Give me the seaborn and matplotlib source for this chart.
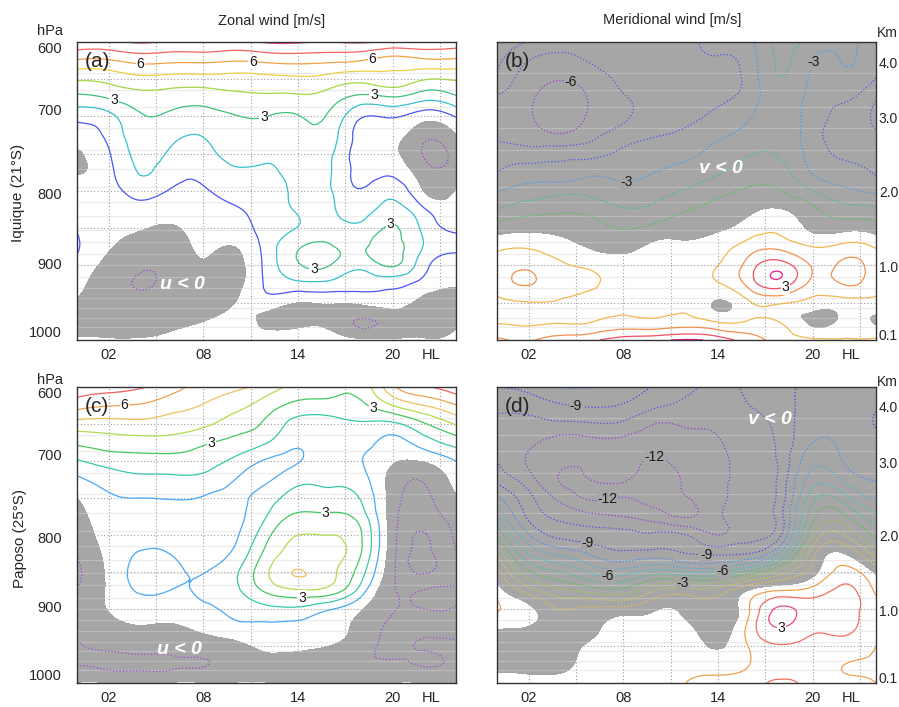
import numpy as np
import matplotlib
matplotlib.use("Agg")
import matplotlib.pyplot as plt
import seaborn as sns
from matplotlib.tri import Triangulation, UniformTriRefiner

# ---------------- data ----------------
hours = [0, 2, 4, 6, 8, 10, 12, 14, 16, 18, 20, 22, 24]
pressure = [600, 625, 650, 675, 700, 725, 750, 775, 800, 825, 850, 875, 900, 925, 950, 975, 1000]

# one list per hour (00..24 LT), values from 600 hPa down to 1000 hPa  [m/s]
u_iquique = [
    [7.8, 5.9, 4.1, 2.7, 1.3, 0.5, -0.1, -0.05, 0.4, 0.7, 0.95, 1.1, 0.7, 0.3, -0.1, -0.3, 0.1],
    [7.8, 5.9, 4.3, 3.05, 1.7, 1.25, 0.9, 0.7, 0.5, 0.4, 0.3, 0.1, -0.3, -0.6, -0.6, -0.5, 0.1],
    [8.1, 6.3, 4.7, 3.6, 2.9, 2.6, 2.3, 2.05, 1.4, 0.7, 0.1, -0.5, -0.9, -1.05, -0.8, -0.5, 0.1],
    [7.9, 6.2, 4.6, 3.5, 2.8, 2.3, 1.8, 1.4, 0.9, 0.4, -0.1, -0.5, -0.7, -0.7, -0.5, -0.2, 0.2],
    [8.0, 6.2, 4.6, 3.4, 2.6, 2.05, 1.7, 1.3, 0.9, 0.6, 0.35, 0.15, -0.1, -0.3, -0.3, 0.0, 0.3],
    [7.8, 6.05, 4.6, 3.7, 2.95, 2.6, 2.25, 1.85, 1.3, 0.9, 0.5, 0.0, -0.3, -0.3, 0.0, 0.3, 0.5],
    [8.1, 6.2, 4.7, 3.8, 3.0, 2.55, 2.15, 1.9, 1.7, 1.55, 1.45, 1.4, 1.3, 1.15, 0.5, -0.2, 0.8],
    [8.1, 6.3, 4.8, 3.8, 2.95, 2.7, 2.5, 2.35, 2.2, 2.1, 2.05, 2.9, 2.9, 1.7, 0.0, -0.3, 0.9],
    [8.0, 6.2, 4.6, 3.5, 2.85, 2.5, 2.2, 2.1, 2.1, 2.2, 2.5, 3.1, 3.0, 1.7, 0.1, -0.3, 0.6],
    [8.1, 6.0, 4.3, 2.65, 1.1, 0.6, 0.5, 0.7, 1.1, 1.6, 2.3, 2.9, 2.3, 1.3, 0.2, -1.1, 0.2],
    [7.9, 5.6, 4.6, 2.9, 1.1, 0.4, 0.2, 0.8, 1.7, 2.4, 3.1, 3.3, 3.1, 1.3, 0.4, -0.6, 0.1],
    [7.8, 5.8, 4.05, 2.3, 0.4, -0.7, -1.1, -0.6, -0.05, 1.1, 1.7, 1.9, 1.3, 0.6, -0.4, -0.5, 0.1],
    [7.6, 5.8, 4.1, 2.8, 1.05, 0.0, -0.6, -0.5, 0.1, 0.5, 0.85, 1.15, 0.6, 0.1, -0.4, -0.2, 0.2],
]
v_iquique = [
    [-3.3, -3.8, -4.3, -5.1, -5.3, -5.15, -4.6, -4.0, -3.0, -2.0, -0.5, 0.75, 1.5, 1.4, 0.8, 0.9, 2.2],
    [-4.05, -5.0, -5.5, -5.8, -5.9, -5.5, -4.6, -3.5, -2.6, -1.4, -0.25, 0.9, 1.8, 2.05, 0.95, 0.8, 1.9],
    [-4.6, -5.3, -5.95, -6.5, -6.4, -5.9, -4.4, -3.6, -2.3, -1.2, -0.3, 0.4, 1.15, 1.3, 0.9, 0.9, 2.5],
    [-4.6, -4.9, -5.5, -5.85, -5.85, -5.3, -4.3, -3.2, -2.3, -1.35, -0.6, -0.1, 0.8, 1.1, 0.7, 0.95, 2.8],
    [-4.3, -4.6, -4.8, -5.1, -5.2, -4.5, -3.8, -3.3, -2.7, -1.9, -1.05, -0.3, 0.4, 0.6, 0.8, 1.3, 3.5],
    [-4.3, -4.5, -4.6, -4.6, -4.4, -4.05, -3.5, -3.0, -2.4, -1.7, -0.7, 0.25, 0.5, 0.6, 0.8, 1.2, 3.8],
    [-4.2, -4.3, -4.4, -4.4, -4.2, -3.8, -3.25, -2.6, -1.9, -1.05, -0.4, 0.2, 0.45, 0.6, 0.85, 1.4, 4.1],
    [-3.8, -4.1, -4.3, -4.15, -3.8, -3.2, -2.6, -2.1, -1.3, -0.7, -0.15, 0.6, 1.0, 0.9, -0.1, 0.9, 3.6],
    [-3.3, -3.5, -3.6, -3.5, -3.1, -2.6, -2.05, -1.5, -0.85, -0.2, 0.5, 1.5, 2.5, 2.4, 0.9, 1.1, 2.5],
    [-1.7, -1.85, -2.05, -2.4, -2.4, -2.3, -2.15, -1.6, -1.0, 0.05, 0.8, 1.7, 3.5, 3.5, 1.1, 0.9, 1.6],
    [-2.4, -2.95, -3.2, -3.4, -3.5, -3.6, -3.4, -3.1, -2.0, -0.8, -0.2, 1.0, 1.9, 1.7, 0.6, -0.2, 1.2],
    [-2.85, -2.95, -3.3, -3.85, -4.3, -4.5, -4.2, -3.6, -2.8, -1.6, -0.3, 1.3, 2.2, 2.05, 0.6, 0.2, 1.1],
    [-3.5, -3.7, -4.05, -4.9, -5.2, -4.9, -4.5, -4.1, -3.2, -1.8, -0.5, 0.9, 1.5, 1.3, 0.7, -0.1, 1.2],
]
u_paposo = [
    [7.6, 6.4, 4.6, 3.2, 1.9, 0.8, 0.0, -0.4, -0.7, -0.95, -1.2, -0.95, -0.7, -0.8, -1.1, -1.05, 0.05],
    [7.4, 6.05, 4.6, 3.5, 2.4, 1.45, 0.85, 0.6, 0.45, 0.3, 0.2, 0.15, 0.05, -0.3, -0.8, -1.2, 0.05],
    [7.1, 5.9, 4.7, 3.6, 2.6, 1.75, 1.0, 0.75, 0.85, 1.05, 1.3, 1.1, 0.5, -0.05, -0.6, -1.2, 0.05],
    [6.4, 5.4, 4.5, 3.6, 2.6, 1.8, 1.05, 0.75, 0.85, 0.98, 1.15, 0.98, 0.5, -0.1, -0.6, -1.15, 0.05],
    [5.6, 4.95, 4.2, 3.15, 2.45, 1.7, 0.95, 0.8, 0.7, 0.8, 0.98, 1.1, 0.8, 0.2, -0.5, -1.05, 0.05],
    [5.2, 4.35, 3.5, 2.7, 1.75, 1.0, 0.8, 0.75, 0.85, 1.2, 1.8, 1.75, 1.3, 0.7, -0.3, -0.6, 0.05],
    [4.6, 3.5, 2.8, 2.05, 0.9, 0.85, 1.5, 2.0, 2.7, 3.3, 3.85, 3.2, 1.7, 0.85, 0.3, -0.4, 0.05],
    [3.7, 2.7, 1.6, 1.1, 0.95, 1.7, 2.4, 3.2, 4.0, 4.4, 5.05, 3.9, 1.8, 0.8, 0.3, -0.5, 0.05],
    [3.6, 2.6, 1.7, 1.45, 1.5, 1.8, 2.4, 3.2, 4.0, 4.3, 4.3, 3.6, 1.1, 0.5, 0.0, -0.6, 0.05],
    [3.4, 2.8, 1.9, 1.4, 1.05, 1.4, 1.9, 2.5, 3.05, 3.0, 2.4, 1.5, 0.1, -0.4, -0.7, -0.9, 0.05],
    [5.8, 4.0, 1.8, 0.7, 0.1, -0.4, -0.5, -0.6, -0.6, -0.7, -0.8, -0.9, -0.95, -1.15, -1.1, -0.9, 0.05],
    [6.9, 5.0, 2.9, 1.5, 0.1, -0.9, -1.2, -1.5, -2.05, -2.2, -2.1, -0.95, -1.0, -1.2, -0.95, -1.05, 0.05],
    [7.6, 5.95, 4.1, 2.4, 1.0, 0.4, -0.1, -0.5, -0.8, -1.05, -1.1, -0.95, -1.05, -1.1, -0.95, -0.8, 0.05],
]
v_paposo = [
    [-9.0, -9.7, -10.3, -10.5, -10.0, -9.3, -7.8, -6.0, -4.1, -2.2, -0.6, 0.5, 1.1, 0.1, -0.5, -0.4, 0.8],
    [-8.7, -9.6, -10.3, -10.8, -11.1, -10.6, -9.7, -9.2, -7.9, -6.0, -3.8, -1.5, 0.3, -0.05, -0.6, -0.5, 0.7],
    [-8.0, -9.1, -10.2, -11.4, -11.8, -12.05, -11.3, -10.2, -9.3, -7.3, -5.0, -2.8, -1.0, -0.5, -0.6, -0.4, 0.7],
    [-8.0, -8.9, -10.1, -11.3, -11.8, -11.98, -12.1, -10.7, -9.6, -8.2, -6.2, -3.4, -0.8, -0.3, 0.3, 0.6, 0.9],
    [-8.3, -9.1, -10.2, -11.3, -11.7, -11.95, -11.98, -11.0, -9.7, -8.8, -6.5, -3.6, -0.7, 0.7, 0.9, 0.5, 0.9],
    [-9.1, -9.8, -11.0, -11.6, -12.1, -12.15, -12.15, -11.5, -9.8, -8.6, -5.5, -2.0, -0.1, 0.6, 0.9, 0.6, 1.0],
    [-9.6, -10.3, -10.9, -11.3, -11.6, -11.9, -12.05, -12.1, -10.0, -9.0, -6.0, -1.6, -0.3, 0.3, 0.6, 0.8, 1.0],
    [-10.4, -10.6, -10.9, -11.05, -11.2, -11.3, -11.3, -11.2, -11.0, -9.2, -6.0, -1.5, -0.8, -0.6, -0.1, 0.6, 1.3],
    [-9.7, -10.0, -10.4, -10.6, -10.7, -10.7, -10.6, -10.5, -10.3, -9.0, -4.5, 0.1, 1.0, 1.4, 1.1, 1.0, 1.4],
    [-9.3, -9.4, -9.6, -9.7, -9.7, -9.6, -9.5, -9.3, -9.0, -6.5, -2.5, 1.0, 3.2, 3.0, 1.9, 1.3, 2.3],
    [-8.6, -8.5, -8.3, -8.0, -7.3, -6.4, -5.3, -4.3, -3.0, -1.4, -0.4, 1.4, 2.4, 2.2, 1.7, 1.3, 1.5],
    [-8.3, -8.4, -8.4, -8.3, -8.1, -7.2, -5.6, -3.8, -2.0, 0.0, 1.4, 2.2, 2.3, 2.2, 1.6, 1.0, 1.2],
    [-8.5, -8.9, -9.05, -8.6, -8.3, -8.05, -7.2, -5.8, -4.3, -2.6, -0.2, 0.8, 1.3, 1.2, 1.0, 0.9, 1.0],
]

levels_a = [-1, 1, 2, 3, 4, 5, 6, 7, 8]
levels_b = [-7, -6, -5, -4, -3, -2, -1, 1, 2, 3, 4]
levels_c = [-3, -2, -1, 1, 2, 3, 4, 5, 6, 7, 8]
levels_d = [-13, -12, -11, -10, -9, -8, -7, -6, -5, -4, -3, -2, -1, 1, 2, 3, 4]

xtick_hours = [2, 8, 14, 20, 22.4]
xtick_labels = ["02", "08", "14", "20", "HL"]
grid_hours = [2, 5, 8, 11, 14, 17, 20, 23]
grid_pressure = [650, 700, 750, 800, 850, 900, 950]
p_tick_pos = [608, 691, 803, 897, 989]
p_tick_labels = ["600", "700", "800", "900", "1000"]
km_tick_pos = [627, 702, 801, 902, 993]
km_tick_labels = ["4.0", "3.0", "2.0", "1.0", "0.1"]
model_levels = [642, 665, 687, 716, 745, 770, 795, 815, 834, 852, 868, 885,
                900, 915, 930, 944, 957, 970, 983]

# contour labels: (level, approximate place in hours / hPa)
labels_a = [(6, (3.9, 637)), (6, (11.1, 626)), (6, (18.6, 623)), (3, (2.3, 679)),
            (3, (18.9, 661)), (3, (11.9, 706)), (3, (19.9, 847)), (3, (15.0, 908))]
labels_b = [(-6, (4.6, 655)), (-3, (8.1, 792)), (-3, (20.2, 628)), (3, (18.3, 932))]
labels_c = [(6, (2.9, 626)), (3, (8.6, 681)), (3, (18.9, 626)), (3, (15.7, 766)),
            (3, (14.2, 886))]
labels_d = [(-9, (5.0, 625)), (-12, (10.0, 701)), (-12, (7.0, 754)), (-9, (5.7, 816)),
            (-9, (13.3, 832)), (-6, (7.0, 851)), (-6, (14.4, 851)), (-3, (11.8, 869)),
            (3, (18.2, 937))]

# ---------------- styles ----------------
colors_a = ['#a040d0', '#4a58f0', '#36c0d0', '#3cc27a', '#a2d844', '#ecd040',
            '#f4a044', '#f06464', '#e8509c']
colors_b = ['#8a30d8', '#9a40d0', '#7a44e0', '#4a58f0', '#3c9cf0', '#30c0a0',
            '#40c840', '#f2b850', '#f09050', '#f05060', '#e0208c']
colors_c = ['#8a30d0', '#9a40d8', '#a048d8', '#4aa8f5', '#38c8a8', '#44c860',
            '#b0dc50', '#f0c060', '#f0a050', '#f06060', '#e8408c']
colors_d = ['#9030d0', '#a040d0', '#9040d8', '#7040e0', '#4848f0', '#4090f0',
            '#40b0e0', '#30c8c8', '#30c890', '#40c840', '#a0d040', '#d8d040',
            '#f0c040', '#f0a050', '#f07060', '#f04878', '#e0208c']

sns.set_theme(style="white")
plt.rcParams['font.family'] = ['Liberation Sans', 'DejaVu Sans']

GRAY = '#a6a6a6'
W, H = 899, 707
PX_H, PX_P = 15.8, 0.745    # pixels per hour / per hPa (for nearest-point search)
fig = plt.figure(figsize=(W / 100, H / 100), dpi=100)


def add_ax(x0, y0, x1, y1):
    return fig.add_axes([x0 / W, 1 - y1 / H, (x1 - x0) / W, (y1 - y0) / H])


def refined(cols):
    Z = np.array(cols, dtype=float).T
    ny, nx = Z.shape
    gx, gy = np.meshgrid(np.arange(nx, dtype=float), np.arange(ny, dtype=float))
    tri = Triangulation(gx.ravel(), gy.ravel())
    tri_f, z_f = UniformTriRefiner(tri).refine_field(Z.ravel(), subdiv=3)
    dh = hours[1] - hours[0]
    dp = pressure[1] - pressure[0]
    tri_p = Triangulation(hours[0] + tri_f.x * dh, pressure[0] + tri_f.y * dp,
                          tri_f.triangles)
    return tri_p, z_f


def panel(ax, cols, levels, colors, labels, letter, rtext, rpos, side):
    tri_p, z_f = refined(cols)
    ax.set_xlim(0, 24)
    ax.set_ylim(1000, 600)
    ax.set_facecolor('white')
    for h in grid_hours:
        ax.axvline(h, color='#9c9c9c', lw=0.8, ls=(0, (1, 2)), zorder=0.5)
    for p in grid_pressure:
        ax.axhline(p, color='#9c9c9c', lw=0.8, ls=(0, (1, 2)), zorder=0.5)
    ax.tricontourf(tri_p, z_f, levels=[-100, 0], colors=[GRAY], zorder=1)
    for p in model_levels:
        ax.axhline(p, color='#d6d6d6', lw=0.9, alpha=0.45, zorder=1.2)
    styles = ['dotted' if l < 0 else 'solid' for l in levels]
    cs = ax.tricontour(tri_p, z_f, levels=levels, colors=colors, linewidths=0.9,
                       linestyles=styles, zorder=2)
    paths = cs.get_paths()
    for lvl, pos in labels:
        verts = paths[levels.index(lvl)].vertices
        if len(verts) == 0:
            continue
        d = ((verts[:, 0] - pos[0]) * PX_H) ** 2 + ((verts[:, 1] - pos[1]) * PX_P) ** 2
        x, y = verts[int(np.argmin(d))]
        bg = GRAY if lvl < 0 else 'white'
        ax.text(x, y, '%d' % lvl, fontsize=10, color='k', ha='center', va='center',
                zorder=4, bbox=dict(boxstyle='square,pad=0.05', fc=bg, ec='none'))
    ax.text(0.02, 0.935, letter, transform=ax.transAxes, fontsize=15,
            ha='left', va='center', zorder=5)
    ax.text(rpos[0], rpos[1], rtext, color='white', fontsize=14,
            fontweight='bold', style='italic', ha='center', va='center', zorder=5)
    for s in ax.spines.values():
        s.set_color('#333333')
        s.set_linewidth(1.0)
        s.set_zorder(6)
    ax.set_xticks(xtick_hours)
    ax.set_xticklabels(xtick_labels)
    ax.set_xticks(grid_hours, minor=True)
    ax.tick_params(axis='x', which='major', length=0, pad=6, labelsize=10.5)
    ax.tick_params(axis='x', which='minor', length=3, direction='out',
                   color='#333333', width=0.8)
    if side == 'left':
        ax.set_yticks(p_tick_pos)
        ax.set_yticklabels(p_tick_labels)
        ax.set_yticks(grid_pressure, minor=True)
        ax.tick_params(axis='y', which='major', length=0, pad=11, labelsize=10.5)
        ax.tick_params(axis='y', which='minor', length=3, direction='out',
                       color='#333333', width=0.8)
    else:
        ax.yaxis.tick_right()
        ax.set_yticks(km_tick_pos)
        ax.set_yticklabels(km_tick_labels)
        ax.set_yticks([], minor=True)
        ax.tick_params(axis='y', which='major', length=0, pad=2, labelsize=10)
    ax.grid(False)


ax_a = add_ax(77, 42, 456, 340)
ax_b = add_ax(497, 42, 876, 340)
ax_c = add_ax(77, 387, 456, 683)
ax_d = add_ax(497, 387, 876, 683)

panel(ax_a, u_iquique, levels_a, colors_a, labels_a, '(a)', 'u < 0', (6.7, 926), 'left')
panel(ax_b, v_iquique, levels_b, colors_b, labels_b, '(b)', 'v < 0', (14.2, 770), 'right')
panel(ax_c, u_paposo, levels_c, colors_c, labels_c, '(c)', 'u < 0', (6.5, 955), 'left')
panel(ax_d, v_paposo, levels_d, colors_d, labels_d, '(d)', 'v < 0', (17.3, 644), 'right')

fig.text(272 / W, 1 - 21 / H, 'Zonal wind [m/s]', ha='center', va='center', fontsize=10.5)
fig.text(672 / W, 1 - 20 / H, 'Meridional wind [m/s]', ha='center', va='center', fontsize=10.5)
fig.text(18 / W, 1 - 193 / H, 'Iquique (21°S)', rotation=90, ha='center', va='center', fontsize=11)
fig.text(20 / W, 1 - 538 / H, 'Paposo (25°S)', rotation=90, ha='center', va='center', fontsize=11)
for yy in (31, 380):
    fig.text(50 / W, 1 - yy / H, 'hPa', ha='center', va='center', fontsize=10.5)
    fig.text(877 / W, 1 - (yy + 2) / H, 'Km', ha='left', va='center', fontsize=10)

fig.savefig('out.png', dpi=100)
